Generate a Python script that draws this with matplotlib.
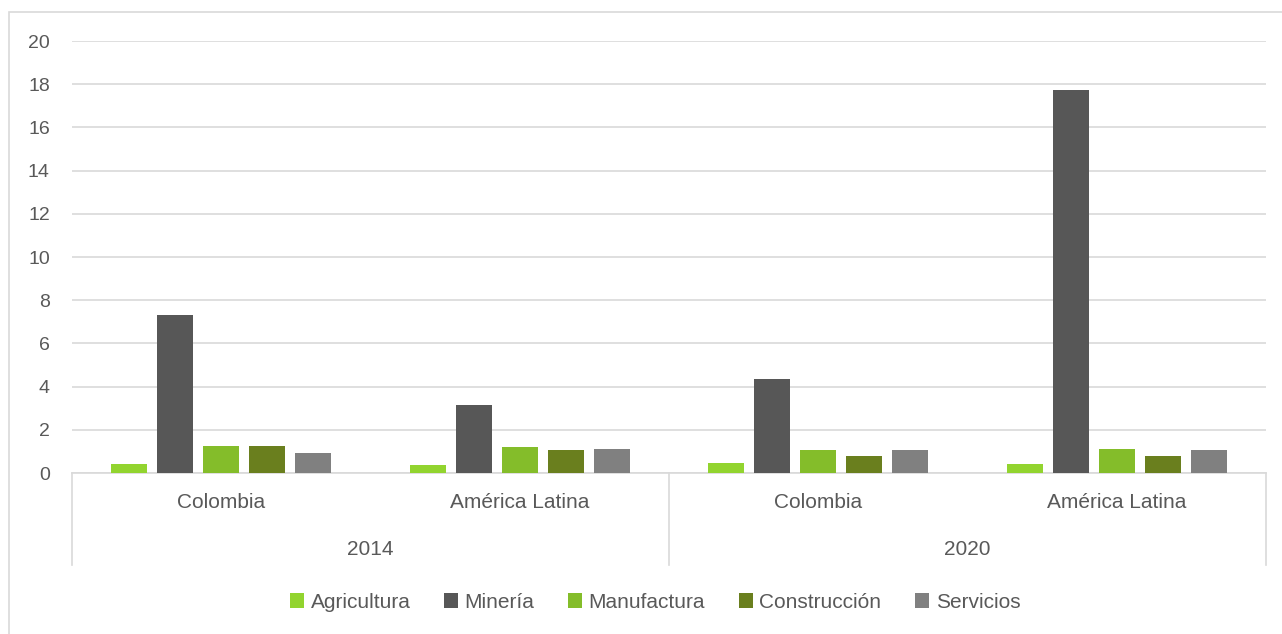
import matplotlib.pyplot as plt
import matplotlib.transforms as mtransforms
from matplotlib.patches import Rectangle

plt.rcParams['font.family'] = ['Liberation Sans', 'DejaVu Sans']

# datos
anios = ['2014', '2020']
regiones = ['Colombia', 'América Latina', 'Colombia', 'América Latina']
sectores = ['Agricultura', 'Minería', 'Manufactura', 'Construcción', 'Servicios']
agricultura = [0.42, 0.37, 0.48, 0.42]
mineria = [7.31, 3.13, 4.35, 17.75]
manufactura = [1.25, 1.20, 1.08, 1.11]
construccion = [1.25, 1.05, 0.79, 0.79]
servicios = [0.93, 1.10, 1.06, 1.05]

valores = [agricultura, mineria, manufactura, construccion, servicios]
colores = ['#92D42F', '#575757', '#84BD2A', '#6A7F1E', '#808080']
txt = '#595959'
gris = '#D9D9D9'

fig = plt.figure(figsize=(12.82, 6.34), dpi=100, facecolor='white')
# borde exterior del grafico (sale por la derecha y por abajo)
fig.patches.append(Rectangle((9 / 1282, -0.05), 1.05, 1.05 - 12 / 634,
                             transform=fig.transFigure, fill=False,
                             edgecolor=gris, linewidth=1.2))
ax = fig.add_axes([72 / 1282, 1 - 473 / 634, (1266 - 72) / 1282, (473 - 41) / 634])

x = list(range(len(regiones)))
paso = 0.154
ancho = 0.12
for k, (serie, col, nombre) in enumerate(zip(valores, colores, sectores)):
    pos = [i + (k - 2) * paso for i in x]
    ax.bar(pos, serie, width=ancho, color=col, label=nombre, zorder=3)

ax.set_xlim(-0.5, 3.5)
ax.set_ylim(0, 20)
ax.set_yticks(range(0, 21, 2))
ax.yaxis.grid(True, color=gris, linewidth=1.2)
ax.set_axisbelow(True)
for s in ['top', 'right', 'left']:
    ax.spines[s].set_visible(False)
ax.spines['bottom'].set_color(gris)
ax.spines['bottom'].set_linewidth(1.2)
ax.tick_params(axis='y', length=0, pad=16, labelsize=14, labelcolor=txt)
ax.set_xticks([])

# eje de categorias con dos niveles
tr = mtransforms.blended_transform_factory(ax.transData, ax.transAxes)
for xv in [-0.5, 1.5, 3.5]:
    ax.plot([xv, xv], [0, -0.213], transform=tr, color=gris, linewidth=1.2, clip_on=False)
for i, r in enumerate(regiones):
    ax.text(i, -0.069, r, transform=tr, ha='center', va='center', fontsize=15, color=txt)
for j, a in enumerate(anios):
    ax.text(2 * j + 0.5, -0.176, a, transform=tr, ha='center', va='center', fontsize=15, color=txt)

leg = fig.legend(loc='center', bbox_to_anchor=(655 / 1282, 1 - 602 / 634), ncol=5,
                 frameon=False, fontsize=15, handlelength=0.7, handleheight=0.7,
                 handletextpad=0.3, columnspacing=1.6)
for t in leg.get_texts():
    t.set_color(txt)

fig.savefig('out.png', dpi=100, facecolor='white')
